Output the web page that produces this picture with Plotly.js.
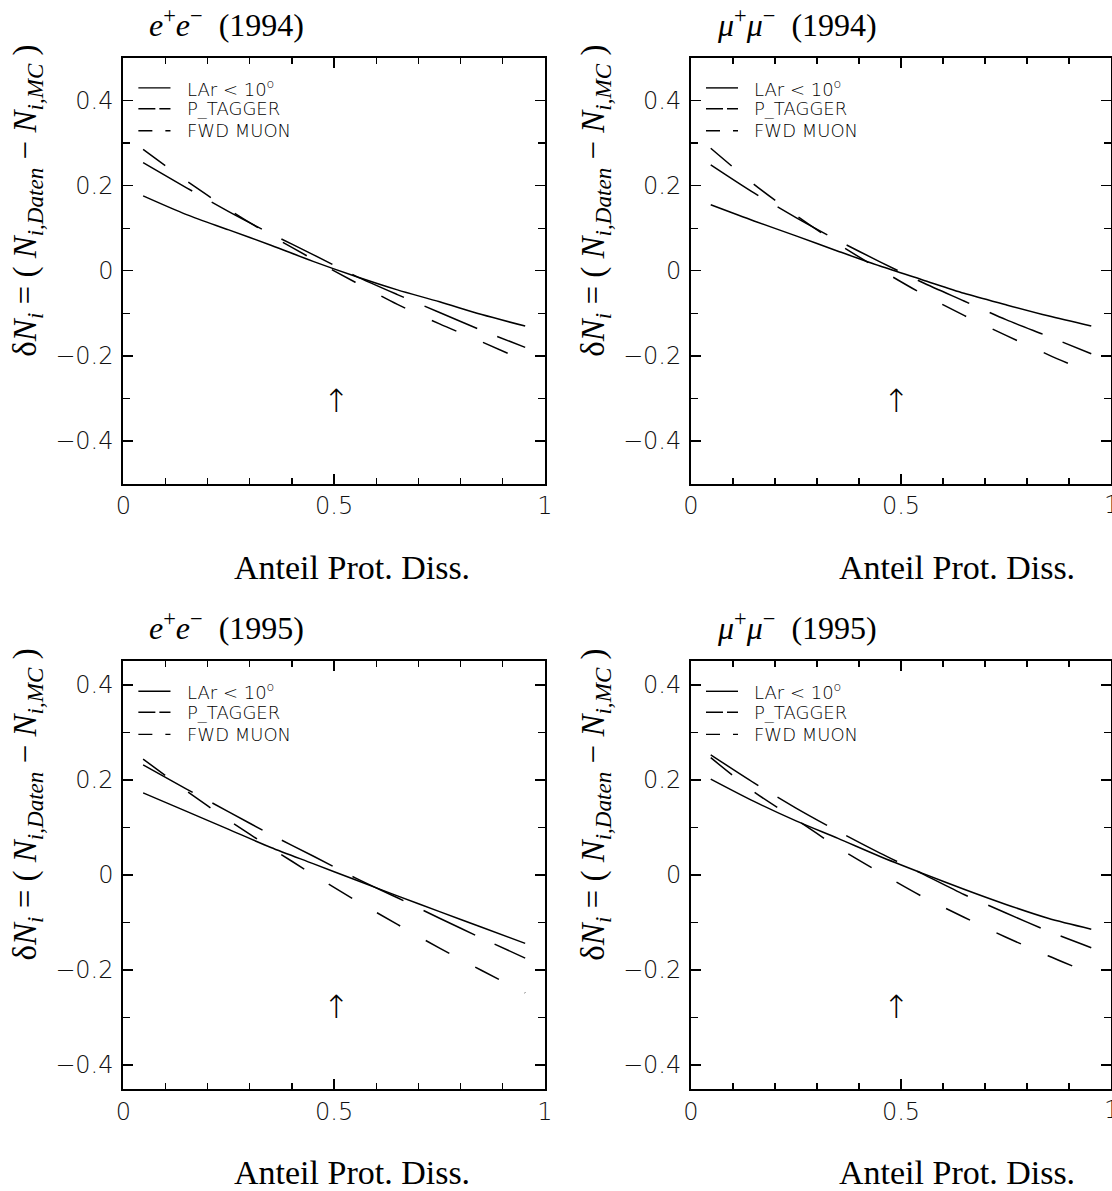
<!DOCTYPE html>
<html>
<head>
<meta charset="utf-8">
<script src="https://cdn.plot.ly/plotly-3.0.1.min.js"></script>
<style>html,body{margin:0;padding:0;background:#fff;}#chart{width:1112px;height:1191px;}</style>
</head>
<body>
<div id="chart"></div>
<script>
// ---- data ----
const xFrac = [0.047, 0.15, 0.25, 0.35, 0.45, 0.55, 0.65, 0.75, 0.85, 0.953];

const larEE94  = [0.176, 0.132, 0.096, 0.060, 0.022, -0.013, -0.045, -0.073, -0.103, -0.130];
const ptagEE94 = [0.254, 0.195, 0.139, 0.087, 0.038, -0.012, -0.056, -0.098, -0.140, -0.180];
const fwdEE94  = [0.285, 0.211, 0.144, 0.083, 0.027, -0.027, -0.079, -0.125, -0.167, -0.212];

const larMM94  = [0.155, 0.117, 0.082, 0.046, 0.011, -0.021, -0.053, -0.080, -0.106, -0.130];
const ptagMM94 = [0.249, 0.183, 0.125, 0.071, 0.021, -0.027, -0.071, -0.115, -0.154, -0.195];
const fwdMM94  = [0.288, 0.203, 0.130, 0.063, 0.003, -0.054, -0.105, -0.152, -0.197, -0.241];

const larEE95  = [0.173, 0.134, 0.096, 0.058, 0.024, -0.010, -0.044, -0.077, -0.110, -0.144];
const ptagEE95 = [0.232, 0.181, 0.133, 0.085, 0.040, -0.006, -0.048, -0.091, -0.133, -0.175];
const fwdEE95  = [0.244, 0.177, 0.115, 0.057, 0.001, -0.053, -0.104, -0.154, -0.201, -0.248];

const larMM95  = [0.202, 0.155, 0.114, 0.077, 0.039, 0.004, -0.030, -0.062, -0.091, -0.114];
const ptagMM95 = [0.253, 0.194, 0.141, 0.092, 0.046, 0.003, -0.041, -0.080, -0.118, -0.153];
const fwdMM95  = [0.247, 0.175, 0.117, 0.058, 0.005, -0.045, -0.089, -0.131, -0.170, -0.208];

const seriesNames = ['LAr &lt; 10<sup>o</sup>', 'P_TAGGER', 'FWD MUON'];
const panelTitles = [
  '<i>e</i><sup>+</sup><i>e</i><sup>\u2212</sup>  (1994)',
  '<i>\u03bc</i><sup>+</sup><i>\u03bc</i><sup>\u2212</sup>  (1994)',
  '<i>e</i><sup>+</sup><i>e</i><sup>\u2212</sup>  (1995)',
  '<i>\u03bc</i><sup>+</sup><i>\u03bc</i><sup>\u2212</sup>  (1995)'
];
const arrowX = [0.506, 0.489, 0.506, 0.489];
const arrowY = [-0.307, -0.307, -0.277, -0.277];
const xTitle = 'Anteil Prot. Diss.';
const yTitle = '\u03b4<i>N</i><sub><i>i</i></sub> = ( <i>N</i><sub><i>i,Daten</i></sub> \u2212 <i>N</i><sub><i>i,MC</i></sub> )';
const yRanges = [[-0.5, 0.5], [-0.5, 0.5], [-0.45, 0.45], [-0.45, 0.45]];
const edgeTickLabel = '1';

// ---- styles ----
const panelData = [
  [larEE94, ptagEE94, fwdEE94],
  [larMM94, ptagMM94, fwdMM94],
  [larEE95, ptagEE95, fwdEE95],
  [larMM95, ptagMM95, fwdMM95]
];
const dashes = ['solid', '57px,22px', '27px,29px'];
const legendDashes = ['solid', '17px,4px', '14px,13px'];

const traces = [];
panelData.forEach((set, p) => {
  const sfx = p === 0 ? '' : String(p + 1);
  set.forEach((ys, s) => {
    traces.push({
      x: xFrac, y: ys, type: 'scatter', mode: 'lines',
      xaxis: 'x' + sfx, yaxis: 'y' + sfx, showlegend: false,
      line: {color: '#000', width: 1.5, dash: dashes[s], shape: 'spline', smoothing: 0.8},
      hoverinfo: 'skip'
    });
  });
});

const W = 1112, H = 1191;
const xDoms = [[123.3 / W, 545 / W], [691 / W, 1111 / W]];
const yDoms = [[1 - 483.5 / H, 1 - 58 / H], [1 - 1088.75 / H, 1 - 661.25 / H]];

const tickFont = {family: 'DejaVu Sans', size: 24, color: '#111', weight: 200};

function xAxis(p) {
  const sfx = p === 0 ? '' : String(p + 1);
  return {
    domain: xDoms[p % 2], range: [0, 1], anchor: 'y' + sfx,
    showline: true, linecolor: '#000', linewidth: 2, mirror: 'allticks',
    ticks: 'inside', ticklen: 10, tickwidth: 1.3, tickcolor: '#000',
    tick0: 0, dtick: 0.5, showgrid: false, zeroline: false,
    minor: {dtick: 0.1, ticks: 'inside', ticklen: 6, tickwidth: 1.3, tickcolor: '#000', showgrid: false},
    tickfont: tickFont, ticklabelstandoff: 0, fixedrange: true
  };
}
function yAxis(p) {
  const sfx = p === 0 ? '' : String(p + 1);
  return {
    domain: yDoms[Math.floor(p / 2)], range: yRanges[p], anchor: 'x' + sfx,
    showline: true, linecolor: '#000', linewidth: 2, mirror: 'allticks',
    ticks: 'inside', ticklen: 10, tickwidth: 1.3, tickcolor: '#000',
    tick0: 0, dtick: 0.2, showgrid: false, zeroline: false,
    minor: {dtick: 0.1, ticks: 'inside', ticklen: 7, tickwidth: 1.3, tickcolor: '#000', showgrid: false},
    tickfont: tickFont, ticklabelstandoff: 3, fixedrange: true
  };
}

const layout = {
  width: W, height: H, margin: {l: 0, r: 0, t: 0, b: 0},
  paper_bgcolor: '#fff', plot_bgcolor: '#fff', showlegend: false,
  annotations: [], shapes: []
};
for (let p = 0; p < 4; p++) {
  const sfx = p === 0 ? '' : String(p + 1);
  layout['xaxis' + sfx] = xAxis(p);
  layout['yaxis' + sfx] = yAxis(p);
  const xr = 'x' + sfx + ' domain', yr = 'y' + sfx + ' domain';
  // panel title
  layout.annotations.push({
    xref: xr, yref: yr, x: 0.057, y: 1.082, xanchor: 'left', yanchor: 'middle',
    text: panelTitles[p], showarrow: false,
    font: {family: 'Liberation Serif', size: 32, color: '#000'}
  });
  // x title
  layout.annotations.push({
    xref: xr, yref: yr, x: p % 2 === 0 ? 0.542 : 0.633, y: -0.197,
    xanchor: 'center', yanchor: 'middle', text: xTitle, showarrow: false,
    font: {family: 'Liberation Serif', size: 34, color: '#000'}
  });
  // y title
  layout.annotations.push({
    xref: xr, yref: yr, x: -0.228, y: 0.665, xanchor: 'center', yanchor: 'middle',
    textangle: -90, text: yTitle, showarrow: false,
    font: {family: 'Liberation Serif', size: 33, color: '#000'}
  });
  // arrow marker
  layout.annotations.push({
    xref: 'x' + sfx, yref: 'y' + sfx, x: arrowX[p], y: arrowY[p],
    xanchor: 'center', yanchor: 'middle', text: '\u2191', showarrow: false,
    font: {family: 'DejaVu Sans', size: 32, color: '#000', weight: 200}
  });
  // right-edge tick label that the right panels lose at the page border
  if (p % 2 === 1) {
    layout.annotations.push({
      xref: 'x' + sfx, yref: yr, x: 1, y: 0, yshift: -21,
      xanchor: 'center', yanchor: 'middle', text: edgeTickLabel, showarrow: false,
      font: tickFont
    });
  }
  // legend
  const rows = [1 - 30 / 427, 1 - 51 / 427, 1 - 73 / 427];
  for (let s = 0; s < 3; s++) {
    layout.shapes.push({
      type: 'line', xref: xr, yref: yr, x0: 15 / 420, x1: 47 / 420, y0: rows[s], y1: rows[s],
      line: {color: '#000', width: 1.4, dash: legendDashes[s]}
    });
    layout.annotations.push({
      xref: xr, yref: yr, x: 61 / 420, y: rows[s], xanchor: 'left', yanchor: 'middle',
      text: seriesNames[s], showarrow: false,
      font: {family: 'DejaVu Sans', size: 18, color: '#000', weight: 200}
    });
  }
}

Plotly.newPlot('chart', traces, layout, {staticPlot: true, displayModeBar: false});
</script>
</body>
</html>
